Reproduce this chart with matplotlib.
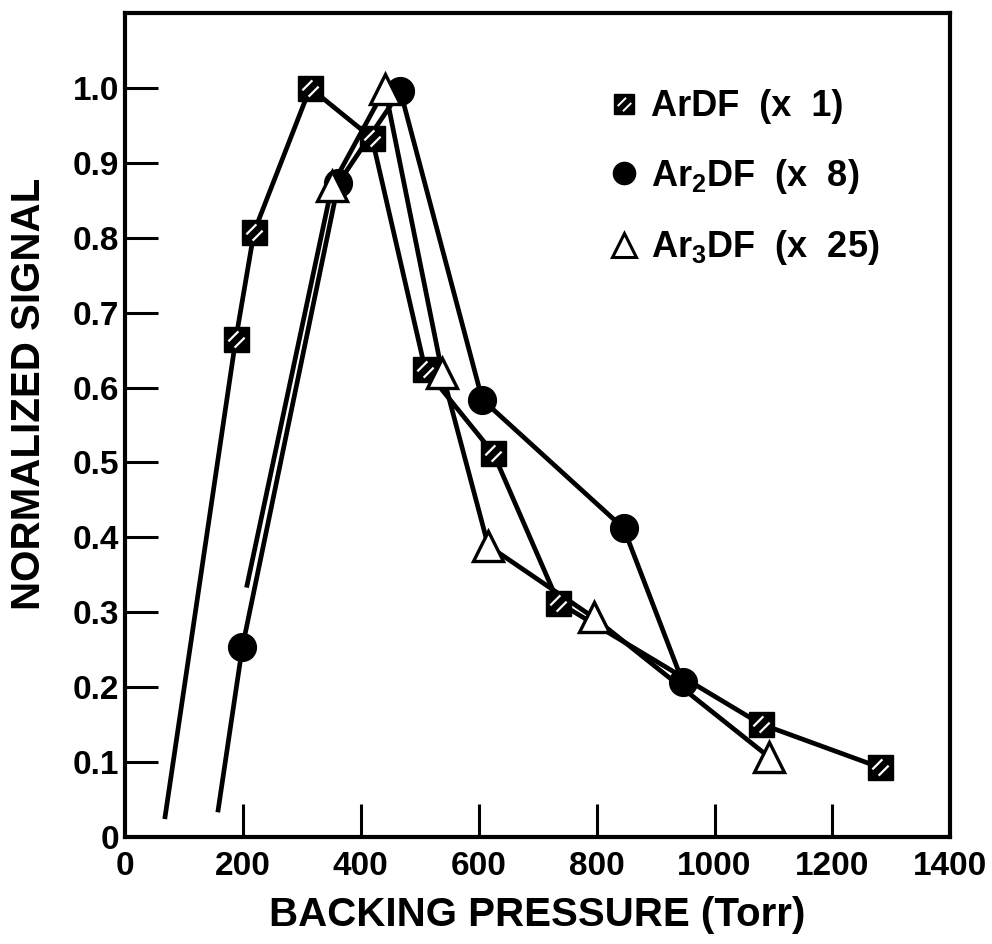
import numpy as np
import matplotlib
matplotlib.use("Agg")
import matplotlib.pyplot as plt
from matplotlib.path import Path
from matplotlib.lines import Line2D

# data (backing pressure in Torr, normalized signal)
ardf_x = [188, 219, 314, 419, 509, 625, 735, 1078, 1280]
ardf_y = [0.665, 0.808, 1.0, 0.933, 0.625, 0.512, 0.313, 0.151, 0.093]
ar2df_x = [199, 362, 467, 606, 846, 946]
ar2df_y = [0.253, 0.873, 0.996, 0.584, 0.412, 0.207]
ar3df_x = [351, 441, 538, 616, 795, 1092]
ar3df_y = [0.869, 0.999, 0.620, 0.389, 0.293, 0.107]

# extrapolated lead-in lines (no marker at start)
ardf_start = (68, 0.027)
ar2df_start = (158, 0.036)
ar3df_start = (207, 0.336)

labels = ["ArDF  (x  1)", "Ar$_2$DF  (x  8)", "Ar$_3$DF  (x  25)"]
xticks = [0, 200, 400, 600, 800, 1000, 1200, 1400]
yticks = [0, 0.1, 0.2, 0.3, 0.4, 0.5, 0.6, 0.7, 0.8, 0.9, 1.0]
ytick_labels = ["0", "0.1", "0.2", "0.3", "0.4", "0.5", "0.6", "0.7", "0.8", "0.9", "1.0"]

plt.rcParams['font.family'] = ['Liberation Sans', 'DejaVu Sans']
plt.rcParams['font.weight'] = 'bold'
plt.rcParams['axes.labelweight'] = 'bold'
plt.rcParams['mathtext.fontset'] = 'custom'
plt.rcParams['mathtext.rm'] = 'Liberation Sans:bold'
plt.rcParams['mathtext.default'] = 'rm'

# white slashes drawn over black squares to mimic the hatched symbol
hatch = Path([(-1, -1), (1, 1),
              (-0.65, -0.15), (0.15, 0.65),
              (-0.15, -0.65), (0.65, 0.15)],
             [Path.MOVETO, Path.MOVETO,
              Path.MOVETO, Path.LINETO,
              Path.MOVETO, Path.LINETO])

fig = plt.figure(figsize=(9.92, 9.44), dpi=100)
ax = fig.add_axes([0.126, 0.1134, 0.832, 0.8728])

lw = 3.4
ax.plot([ardf_start[0]] + ardf_x, [ardf_start[1]] + ardf_y, color='black', lw=lw, zorder=2)
ax.plot([ar2df_start[0]] + ar2df_x, [ar2df_start[1]] + ar2df_y, color='black', lw=lw, zorder=2)
ax.plot([ar3df_start[0]] + ar3df_x, [ar3df_start[1]] + ar3df_y, color='black', lw=lw, zorder=2)

ax.plot(ardf_x, ardf_y, ls='none', marker='s', ms=18, mfc='black', mec='black', zorder=3)
ax.plot(ardf_x, ardf_y, ls='none', marker=hatch, ms=18, mec='white', mew=1.6, zorder=3.1)
ax.plot(ar2df_x, ar2df_y, ls='none', marker='o', ms=20, mfc='black', mec='black', zorder=4)
ax.plot(ar3df_x, ar3df_y, ls='none', marker='^', ms=22, mfc='white', mec='black', mew=2.4, zorder=5)

ax.set_xlim(0, 1400)
ax.set_ylim(0, 1.1)
ax.set_xticks(xticks)
ax.set_xticklabels([str(t) for t in xticks])
ax.set_yticks(yticks)
ax.set_yticklabels(ytick_labels)

ax.tick_params(axis='both', direction='in', length=24, width=2.2, labelsize=24)
ax.tick_params(axis='x', pad=10)
ax.tick_params(axis='y', pad=4)
for t in (ax.xaxis.get_major_ticks()[0], ax.xaxis.get_major_ticks()[-1], ax.yaxis.get_major_ticks()[0]):
    t.tick1line.set_visible(False)

for s in ax.spines.values():
    s.set_linewidth(3)

ax.set_xlabel("BACKING PRESSURE (Torr)", fontsize=29, labelpad=10)
ax.set_ylabel("NORMALIZED SIGNAL", fontsize=29)
ax.yaxis.set_label_coords(-0.093, 0.538)

h1 = (Line2D([], [], ls='none', marker='s', ms=15, mfc='black', mec='black'),
      Line2D([], [], ls='none', marker=hatch, ms=15, mec='white', mew=1.4))
h2 = Line2D([], [], ls='none', marker='o', ms=16, mfc='black', mec='black')
h3 = Line2D([], [], ls='none', marker='^', ms=17, mfc='white', mec='black', mew=2.2)
ax.legend([h1, h2, h3], labels, loc='upper left', bbox_to_anchor=(0.565, 0.925),
          frameon=False, fontsize=26, handlelength=1.0, handletextpad=0.25,
          labelspacing=0.9, borderaxespad=0)

fig.savefig("out.png", dpi=100)
